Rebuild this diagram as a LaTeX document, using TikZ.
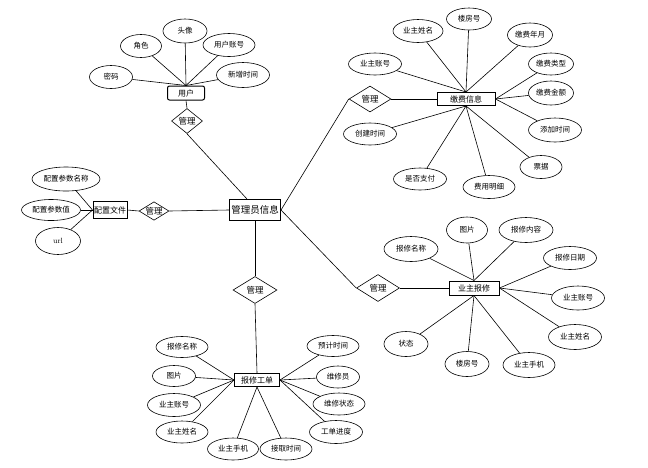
\documentclass[tikz,border=0pt]{standalone}
\usepackage{fontspec}
\newfontfamily\cjk{Noto Sans CJK SC}
\usetikzlibrary{shapes.geometric}
\begin{document}
\begin{tikzpicture}[x=1pt,y=-1pt,
  attr/.style={ellipse,draw,line width=0.6pt,fill=white,inner sep=0pt,minimum width=52pt,minimum height=23pt,font=\cjk\fontsize{7.5}{8}\selectfont},
  ent/.style={rectangle,draw,line width=1pt,fill=white,inner sep=0pt,minimum height=13pt,font=\cjk\fontsize{8}{9}\selectfont},
  rel/.style={diamond,draw,line width=0.6pt,fill=white,inner sep=0pt,aspect=1.6,font=\cjk\fontsize{8.5}{9}\selectfont},
  lnk/.style={line width=0.6pt}]
\useasboundingbox (0,0) rectangle (648,467);

% entities
\node[ent,rounded corners=2pt,minimum width=37pt,minimum height=14pt] (u) at (186,93) {用户};
\node[ent,minimum width=51pt,minimum height=21pt,font=\cjk\fontsize{9.5}{10}\selectfont] (admin) at (255,210) {管理员信息};
\node[ent,minimum width=34pt,minimum height=17pt] (cfg) at (110,210) {配置文件};
\node[ent,minimum width=58pt] (fee) at (466,99) {缴费信息};
\node[ent,minimum width=50pt,minimum height=14pt] (rep) at (474,288) {业主报修};
\node[ent,minimum width=45pt] (wo) at (257,380) {报修工单};

% relations
\node[rel,minimum width=31pt,minimum height=25pt] (d1) at (187,121) {管理};
\node[rel,minimum width=30pt,minimum height=18pt] (dc) at (154,211) {管理};
\node[rel,minimum width=42pt,minimum height=26pt] (d2) at (370,99) {管理};
\node[rel,minimum width=43pt,minimum height=27pt] (d3) at (378,288) {管理};
\node[rel,minimum width=44pt,minimum height=27pt] (d4) at (255,290) {管理};

% user attributes
\node[attr,minimum width=43pt] (u1) at (111,77) {密码};
\node[attr,minimum width=41pt] (u2) at (141,46) {角色};
\node[attr,minimum width=44pt,minimum height=24pt] (u3) at (185,31) {头像};
\node[attr] (u4) at (229,45) {用户账号};
\node[attr,minimum width=53pt,minimum height=25pt] (u5) at (243,75) {新增时间};

% config attributes
\node[attr,minimum width=68pt,minimum height=24pt] (c1) at (66,179) {配置参数名称};
\node[attr,minimum width=59pt,minimum height=21pt] (c2) at (51,210) {配置参数值};
\node[attr,minimum width=45pt,minimum height=27pt,font=\fontsize{7.5}{8}\selectfont] (c3) at (58,241) {url};

% fee attributes
\node[attr,minimum width=50pt] (f1) at (418,31) {业主姓名};
\node[attr,minimum width=45pt,minimum height=22pt] (f2) at (469,19) {楼房号};
\node[attr,minimum width=45pt,minimum height=24pt] (f3) at (530,35) {缴费年月};
\node[attr,minimum width=53pt,minimum height=22pt] (f4) at (375,64) {业主账号};
\node[attr,minimum width=45pt,minimum height=22pt] (f5) at (551,64) {缴费类型};
\node[attr,minimum width=45pt,minimum height=24pt] (f6) at (551,93) {缴费金额};
\node[attr,minimum width=53pt,minimum height=24pt] (f7) at (555,130) {添加时间};
\node[attr,minimum width=42pt] (f8) at (541,167) {票据};
\node[attr,minimum width=52pt] (f9) at (489,187) {费用明细};
\node[attr,minimum width=53pt,minimum height=22pt] (f10) at (420,179) {是否支付};
\node[attr,minimum width=53pt,minimum height=22pt] (f11) at (370,134) {创建时间};

% repair attributes
\node[attr,minimum width=54pt,minimum height=25pt] (r1) at (411,249) {报修名称};
\node[attr,minimum width=41pt,minimum height=26pt] (r2) at (467,230) {图片};
\node[attr,minimum width=54pt,minimum height=25pt] (r3) at (526,230) {报修内容};
\node[attr,minimum width=53pt] (r4) at (570,258) {报修日期};
\node[attr,minimum width=53pt,minimum height=24pt] (r5) at (578,298) {业主账号};
\node[attr,minimum width=53pt,minimum height=25pt] (r6) at (575,337) {业主姓名};
\node[attr,minimum width=52pt,minimum height=25pt] (r7) at (529,365) {业主手机};
\node[attr,minimum width=44pt,minimum height=25pt] (r8) at (467,364) {楼房号};
\node[attr,minimum width=44pt,minimum height=25pt] (r9) at (406,344) {状态};

% work order attributes
\node[attr,minimum width=52pt,minimum height=21pt] (w1) at (182,347) {报修名称};
\node[attr,minimum width=43pt,minimum height=21pt] (w2) at (174,376) {图片};
\node[attr,minimum width=53pt] (w3) at (174,405) {业主账号};
\node[attr,minimum width=52pt,minimum height=22pt] (w4) at (182,432) {业主姓名};
\node[attr,minimum width=51pt,minimum height=22pt] (w5) at (233,449) {业主手机};
\node[attr,minimum width=52pt,minimum height=22pt] (w6) at (286,449) {接取时间};
\node[attr,minimum width=52pt,minimum height=21pt] (w7) at (333,346) {预计时间};
\node[attr,minimum width=43pt,minimum height=22pt] (w8) at (338,377) {维修员};
\node[attr,minimum width=52pt,minimum height=22pt] (w9) at (339,404) {维修状态};
\node[attr,minimum width=53pt] (w10) at (336,432) {工单进度};

% connectors
\foreach \a in {u1,u2,u3,u4,u5} \draw[lnk] (\a) -- (u.north);
\draw[lnk] (u.south) -- (d1.north);
\draw[lnk] (d1.south) -- ([xshift=18pt]admin.north west);
\draw[lnk] (admin.west) -- (dc.east);
\draw[lnk] (dc.west) -- (cfg.east);
\foreach \a in {c1,c2,c3} \draw[lnk] (\a) -- (cfg.west);
\draw[lnk] (admin.east) -- (d2.west);
\draw[lnk] (d2.east) -- (fee.west);
\foreach \a in {f1,f2,f3,f4} \draw[lnk] (\a) -- (fee.north);
\foreach \a in {f5,f6,f7} \draw[lnk] (\a) -- (fee.east);
\foreach \a in {f8,f9,f10,f11} \draw[lnk] (\a) -- (fee.south);
\draw[lnk] (admin.east) -- (d3.west);
\draw[lnk] (d3.east) -- (rep.west);
\foreach \a in {r1,r2,r3} \draw[lnk] (\a) -- (rep.north);
\foreach \a in {r4,r5,r6} \draw[lnk] (\a) -- (rep.east);
\foreach \a in {r7,r8,r9} \draw[lnk] (\a) -- (rep.south);
\draw[lnk] (admin.south) -- (d4.north);
\draw[lnk] (d4.south) -- (wo.north);
\foreach \a in {w1,w2,w3,w4} \draw[lnk] (\a) -- (wo.west);
\foreach \a in {w7,w8,w9,w10} \draw[lnk] (\a) -- (wo.east);
\foreach \a in {w5,w6} \draw[lnk] (\a) -- (wo.south);
\end{tikzpicture}
\end{document}
